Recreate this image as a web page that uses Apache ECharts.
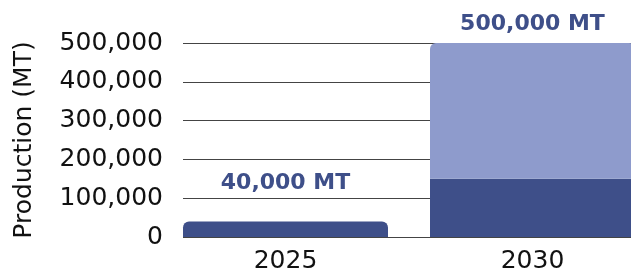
<!DOCTYPE html>
<html>
<head>
<meta charset="utf-8">
<script src="https://cdn.jsdelivr.net/npm/echarts@6/dist/echarts.min.js"></script>
<style>
    html, body { margin: 0; padding: 0; background: #fff; }
    #chart { width: 631px; height: 276px; }
</style>
</head>
<body>
<div id="chart"></div>
<script>
const years = ['2025', '2030'];
const baseValues = [40000, 150000];      // 深色部分
const addedValues = [null, 350000];      // 浅色部分
const yTicks = [0, 100000, 200000, 300000, 400000, 500000];

const DARK = '#3e4f89';
const LIGHT = '#8e9bcc';
const FONT = 'DejaVu Sans';

let totals = years.map((y, i) => (baseValues[i] || 0) + (addedValues[i] || 0));
let fmt = v => v.toLocaleString('en-US');

let myChart = echarts.init(document.getElementById('chart'));

let option = {
    animation: false,
    grid: [
        // 网格线
        { left: 183, top: 43, bottom: 39, width: 600, outerBoundsMode: 'none' },
        // 柱子 (右边超出画布)
        { left: 162, top: 43, bottom: 39, width: 494, outerBoundsMode: 'none' }
    ],
    xAxis: [
        { gridIndex: 0, type: 'category', data: years, show: false },
        {
            gridIndex: 1,
            type: 'category',
            data: years,
            axisLine: { show: false },
            axisTick: { show: false },
            axisLabel: { color: '#111', fontFamily: FONT, fontSize: 25, margin: 12 }
        }
    ],
    yAxis: [
        {
            gridIndex: 0,
            type: 'value',
            min: yTicks[0],
            max: yTicks[yTicks.length - 1],
            interval: yTicks[1] - yTicks[0],
            name: 'Production (MT)',
            nameLocation: 'middle',
            nameGap: 146,
            nameTextStyle: { color: '#111', fontFamily: FONT, fontSize: 25 },
            axisLine: { show: false },
            axisTick: { show: false },
            axisLabel: { color: '#111', fontFamily: FONT, fontSize: 25, margin: 20, formatter: fmt },
            splitLine: { show: true, lineStyle: { color: '#444', width: 1 } }
        },
        {
            gridIndex: 1,
            type: 'value',
            min: yTicks[0],
            max: yTicks[yTicks.length - 1],
            show: false,
            splitLine: { show: false }
        }
    ],
    series: [
        {
            type: 'bar',
            stack: 'total',
            xAxisIndex: 1,
            yAxisIndex: 1,
            barWidth: 205,
            data: baseValues.map((v, i) => ({
                value: v,
                itemStyle: {
                    color: DARK,
                    borderRadius: addedValues[i] ? 0 : [6, 6, 0, 0]
                },
                label: {
                    show: !addedValues[i],
                    position: 'top',
                    distance: 27,
                    formatter: fmt(totals[i]) + ' MT'
                }
            })),
            label: { color: DARK, fontFamily: FONT, fontWeight: 'bold', fontSize: 22 }
        },
        {
            type: 'bar',
            stack: 'total',
            xAxisIndex: 1,
            yAxisIndex: 1,
            barWidth: 205,
            data: addedValues.map((v, i) => ({
                value: v,
                itemStyle: { color: LIGHT, borderRadius: [6, 6, 0, 0] },
                label: {
                    show: !!v,
                    position: 'top',
                    distance: 8,
                    formatter: fmt(totals[i]) + ' MT'
                }
            })),
            label: { color: DARK, fontFamily: FONT, fontWeight: 'bold', fontSize: 22 }
        }
    ]
};

myChart.setOption(option);
</script>
</body>
</html>
